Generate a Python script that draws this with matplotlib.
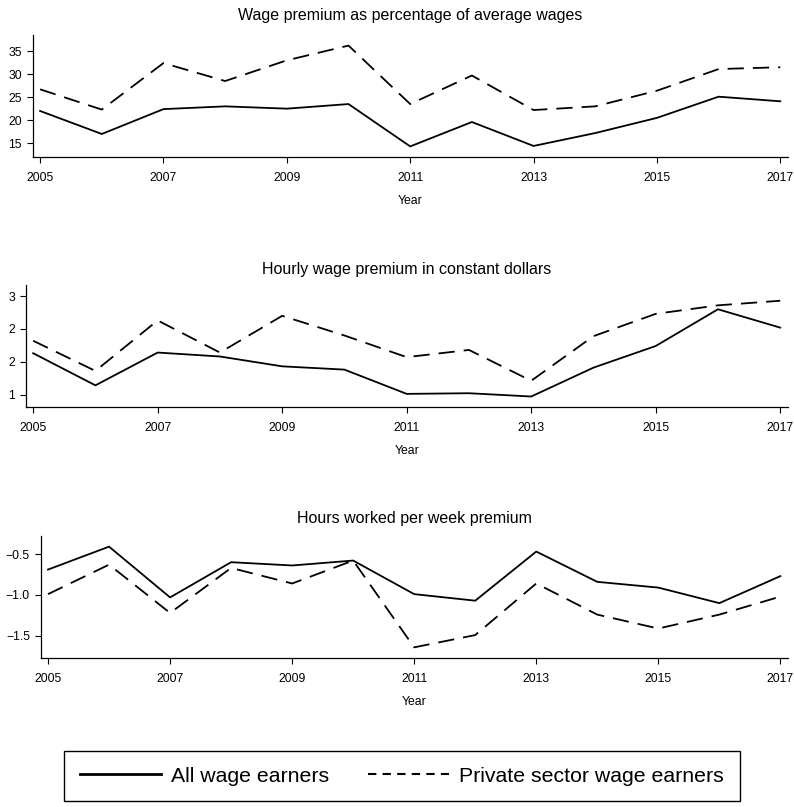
import matplotlib.pyplot as plt
from matplotlib.lines import Line2D

plt.rcParams['font.family'] = ['Liberation Sans Narrow', 'Liberation Sans', 'DejaVu Sans']

# data
years = list(range(2005, 2018))

pct_all = [22.0, 17.0, 22.4, 23.0, 22.5, 23.5, 14.3, 19.6, 14.4, 17.2, 20.5, 25.1, 24.1]
pct_private = [26.7, 22.3, 32.4, 28.5, 33.0, 36.2, 23.5, 29.7, 22.2, 23.0, 26.4, 31.1, 31.5]

hourly_all = [1.63, 1.14, 1.64, 1.58, 1.43, 1.38, 1.01, 1.02, 0.97, 1.41, 1.74, 2.30, 2.02]
hourly_private = [1.82, 1.36, 2.13, 1.64, 2.20, 1.90, 1.57, 1.68, 1.21, 1.89, 2.23, 2.36, 2.43]

hours_all = [-0.69, -0.41, -1.03, -0.60, -0.64, -0.58, -0.99, -1.07, -0.47, -0.84, -0.91, -1.10, -0.77]
hours_private = [-0.99, -0.63, -1.22, -0.67, -0.86, -0.58, -1.64, -1.49, -0.86, -1.24, -1.41, -1.24, -1.02]

titles = ['Wage premium as percentage of average wages',
          'Hourly wage premium in constant dollars',
          'Hours worked per week premium']
xticks = [2005, 2007, 2009, 2011, 2013, 2015, 2017]

yticks1 = [15, 20, 25, 30, 35]
yticks2 = [1, 1.5, 2, 2.5]
yticklabels2 = ['1', '2', '2', '3']
yticks3 = [-1.5, -1.0, -0.5]
yticklabels3 = ['\u22121.5', '\u22121.0', '\u22120.5']

W, H = 794, 807
fig = plt.figure(figsize=(W / 100, H / 100), dpi=100)


def make_ax(left, right, top, bottom):
    return fig.add_axes([left / W, 1 - bottom / H, (right - left) / W, (bottom - top) / H])


panels = [
    (make_ax(33, 788, 35, 157), pct_all, pct_private, (12, 38.5), yticks1, [str(t) for t in yticks1], 11),
    (make_ax(26, 788, 285, 407), hourly_all, hourly_private, (0.81, 2.67), yticks2, yticklabels2, 8),
    (make_ax(41, 788, 536, 658), hours_all, hours_private, (-1.77, -0.28), yticks3, yticklabels3, 9),
]

for i, (ax, s_all, s_priv, ylim, yt, ytl, tpad) in enumerate(panels):
    ax.plot(years, s_all, color='black', linewidth=1.3)
    ax.plot(years, s_priv, color='black', linewidth=1.3, dashes=(9, 5))
    ax.set_xlim(2004.885, 2017.125)
    ax.set_ylim(*ylim)
    ax.set_xticks(xticks)
    ax.set_xticklabels([str(x) for x in xticks])
    ax.set_yticks(yt)
    ax.set_yticklabels(ytl)
    for side in ['top', 'right']:
        ax.spines[side].set_visible(False)
    for side in ['left', 'bottom']:
        ax.spines[side].set_linewidth(0.9)
    ax.tick_params(direction='out', length=4.5, width=0.8, labelsize=8.8, pad=3.5)
    ax.tick_params(axis='x', pad=6)
    ax.set_title(titles[i], fontsize=11.5, pad=tpad)
    ax.set_xlabel('Year', fontsize=8.8, labelpad=8)

# legend box at the bottom
handles = [Line2D([], [], color='black', linewidth=2),
           Line2D([], [], color='black', linewidth=1.5, dashes=(4, 3))]
fig.legend(handles, ['All wage earners', 'Private sector wage earners'],
           loc='center', bbox_to_anchor=(402 / W, 1 - 776 / H), ncol=2,
           fontsize=15.3, frameon=True, fancybox=False, edgecolor='black',
           handlelength=3.8, columnspacing=1.8, handletextpad=0.5,
           borderpad=0.75, framealpha=1)

fig.savefig('out.png', dpi=100, facecolor='white')
